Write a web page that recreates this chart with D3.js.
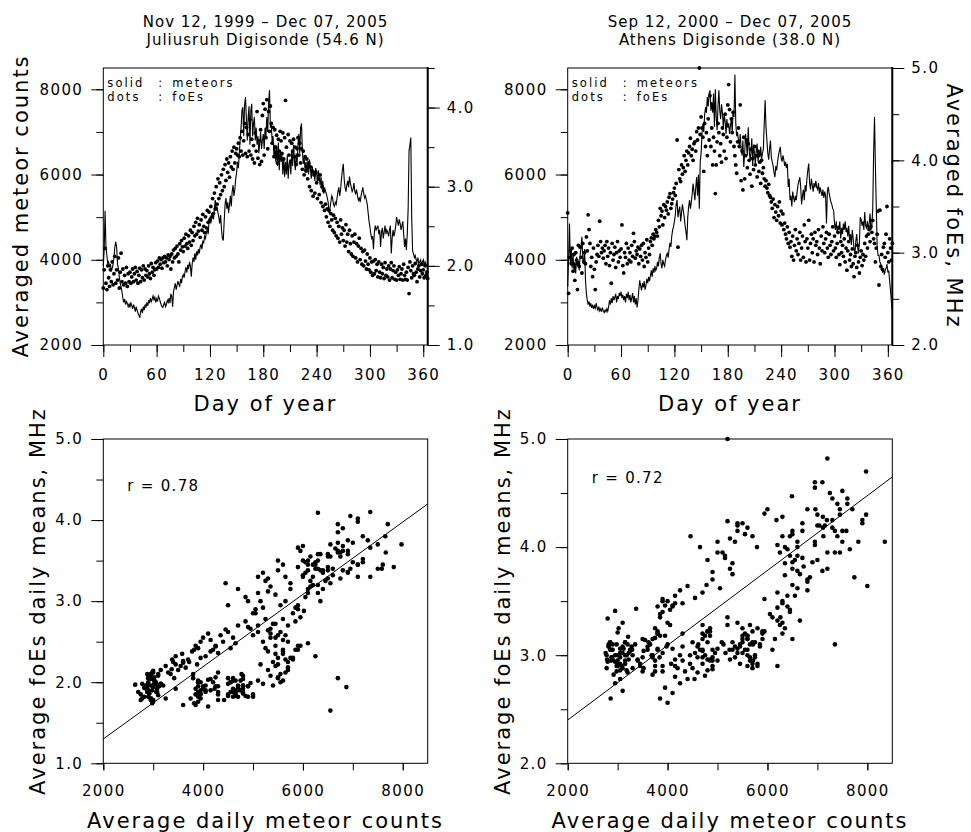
<!DOCTYPE html>
<html>
<head>
<meta charset="utf-8">
<script src="https://cdn.jsdelivr.net/npm/d3@7"></script>
<style>
  html, body { margin: 0; padding: 0; background: #fff; }
  svg { display: block; font-family: "DejaVu Sans", sans-serif; }
</style>
</head>
<body>
<svg id="chart" width="971" height="832"></svg>
<script>
/* Meteor counts vs sporadic-E foEs, Juliusruh and Athens digisondes */

// ---- axis ticks ----
const DAY_TICKS = [0, 30, 60, 90, 120, 150, 180, 210, 240, 270, 300, 330, 360];
const DAY_LABELS = [0, 60, 120, 180, 240, 300, 360];
const COUNT_TICKS = [2000, 3000, 4000, 5000, 6000, 7000, 8000];
const COUNT_LABELS = [2000, 4000, 6000, 8000];
const JUL_F_TICKS = [1.0, 1.5, 2.0, 2.5, 3.0, 3.5, 4.0, 4.5];
const JUL_F_LABELS = [1.0, 2.0, 3.0, 4.0];
const ATH_F_TICKS = [2.0, 2.5, 3.0, 3.5, 4.0, 4.5, 5.0];
const ATH_F_LABELS = [2.0, 3.0, 4.0, 5.0];
const SCAT_J_TICKS = [1.0, 1.5, 2.0, 2.5, 3.0, 3.5, 4.0, 4.5, 5.0];
const SCAT_J_LABELS = [1.0, 2.0, 3.0, 4.0, 5.0];

// ---- Juliusruh, day-of-year averages (day 0..365) ----
const JUL_METEORS = [
  3850, 4250, 5150, 4300, 4100, 3900, 3950, 3820, 3900, 3750,
  3800, 3900, 4050, 4300, 4420, 4300, 3900, 3800, 3600, 3450,
  3370, 3250, 3100, 3000, 3080, 2950, 3020, 2980, 2900, 2960,
  2880, 3000, 2920, 2850, 2950, 2880, 2780, 2900, 2820, 2750,
  2700, 2640, 2780, 2850, 2750, 2900, 2820, 2950, 2880, 3000,
  2920, 3050, 2980, 3100, 3020, 3080, 3150, 3060, 3120, 3000,
  3080, 3020, 3150, 3100, 3020, 2950, 2900, 2880, 2950, 3000,
  2900, 2950, 3050, 3000, 3100, 2980, 3200, 3150, 2900, 3250,
  3350, 3450, 3300, 3400, 3500, 3420, 3380, 3550, 3450, 3600,
  3650, 3580, 3720, 3820, 3700, 3880, 3780, 3950, 3850, 3600,
  3900, 4050, 3950, 4150, 4000, 4200, 4100, 4250, 4150, 4300,
  4350, 4250, 4450, 4400, 4550, 4500, 4650, 4700, 4600, 4900,
  5000, 4850, 5100, 5050, 4950, 5200, 5400, 5150, 5250, 5100,
  5000, 4850, 5050, 4700, 4500, 4450, 4900, 5300, 5450, 5200,
  5350, 5100, 5300, 5500, 5250, 5600, 5750, 5500, 5650, 5900,
  6050, 6300, 6150, 6500, 6800, 7100, 7500, 7580, 6900, 7650,
  7820, 7300, 6800, 7350, 7600, 6700, 7500, 7660, 6900, 7200,
  7350, 6800, 7100, 6700, 6900, 6500, 6750, 7000, 6600, 6800,
  6950, 6600, 7100, 6900, 7350, 7000, 7700, 7975, 7100, 7200,
  6750, 6900, 6400, 6700, 6300, 6650, 6200, 6750, 6100, 6550,
  6300, 6500, 6000, 6400, 5950, 6300, 6000, 6450, 5900, 6250,
  6350, 6000, 6550, 6200, 6700, 6350, 6100, 6500, 6250, 6700,
  6950, 6500, 7100, 7200, 6550, 6250, 6400, 6100, 6300, 6050,
  6300, 6000, 6350, 6150, 5900, 6200, 6020, 6100, 5850, 6150,
  6050, 5800, 6100, 5900, 5750, 5950, 5650, 5850, 5550, 5700,
  5600, 5550, 5450, 5350, 5100, 5200, 5350, 5500, 5450, 5300,
  5250, 5350, 5300, 5450, 5600, 5700, 5500, 5650, 5900, 6100,
  6250, 5900, 5700, 5600, 5750, 5850, 5700, 5950, 5800, 5700,
  5600, 5650, 5800, 5600, 5550, 5650, 5500, 5400, 5450, 5350,
  5500, 5600, 5700, 5550, 5450, 5500, 5400, 5300, 5100, 4900,
  4770, 4600, 4500, 4550, 4250, 4650, 4800, 4700, 4750, 4800,
  4600, 4700, 4300, 4650, 4750, 4500, 4650, 4800, 4600, 4700,
  4650, 4550, 4700, 4800, 4150, 4500, 4700, 4550, 4650, 4800,
  5000, 4900, 4800, 4950, 4850, 4700, 4800, 4900, 4600, 4300,
  4500, 4230, 4600, 5200, 6550, 6700, 6870, 5000, 4200, 4150,
  4050, 4100, 4000, 3950, 4050, 3900, 3950, 4000, 3900, 3950,
  4000, 3850, 3950, 3900, 3850, 3900
];
const JUL_FOES = [
  1.72, 1.95, 2.22, 1.78, 1.70, 2.00, 1.85, 1.74, 1.95, 1.80,
  2.05, 1.76, 1.90, 2.12, 1.78, 1.95, 1.82, 2.10, 1.72, 1.92,
  2.16, 1.80, 1.96, 1.76, 1.88, 1.78, 1.98, 1.74, 1.90, 1.80,
  1.92, 1.78, 1.86, 1.96, 1.80, 1.90, 1.98, 1.82, 1.93, 1.78,
  1.88, 1.97, 1.80, 1.95, 1.85, 2.00, 1.82, 1.96, 1.88, 1.94,
  1.86, 2.00, 1.90, 1.84, 2.03, 1.92, 1.98, 1.88, 1.95, 2.04,
  1.96, 2.06, 1.98, 2.10, 2.02, 2.08, 1.97, 2.10, 2.04, 2.12,
  2.05, 2.10, 2.00, 2.14, 2.08, 2.12, 1.96, 2.15, 2.05, 2.20,
  2.10, 2.22, 2.12, 2.25, 2.15, 2.05, 2.28, 2.20, 2.32, 2.24,
  2.18, 2.35, 2.25, 2.40, 2.28, 2.22, 2.38, 2.30, 2.45, 2.26,
  2.42, 2.32, 2.50, 2.38, 2.55, 2.40, 2.60, 2.44, 2.52, 2.36,
  2.58, 2.45, 2.65, 2.50, 2.42, 2.62, 2.48, 2.70, 2.55, 2.68,
  2.58, 2.75, 2.62, 2.85, 2.66, 2.92, 2.72, 3.00, 2.78, 3.10,
  2.85, 3.05, 2.90, 3.15, 2.95, 3.22, 3.00, 3.28, 3.08, 3.35,
  3.18, 3.30, 3.12, 3.38, 3.25, 3.45, 3.22, 3.50, 3.30, 3.42,
  3.48, 3.40, 3.55, 3.38, 3.62, 3.45, 3.70, 3.40, 3.58, 3.80,
  3.42, 3.75, 3.38, 3.66, 3.45, 3.85, 3.40, 3.60, 3.35, 3.52,
  3.30, 3.68, 3.45, 3.95, 3.36, 3.58, 3.28, 3.72, 3.32, 3.90,
  4.05, 3.40, 3.98, 3.62, 4.10, 3.48, 3.95, 3.70, 4.02, 3.80,
  3.55, 3.75, 3.38, 3.72, 3.50, 3.65, 3.30, 3.60, 3.45, 3.70,
  3.58, 3.42, 3.68, 3.35, 3.62, 4.09, 3.50, 3.25, 3.66, 3.40,
  3.58, 3.32, 3.55, 3.45, 3.60, 3.38, 3.50, 3.28, 3.48, 3.62,
  3.40, 3.55, 3.30, 3.48, 3.22, 3.45, 3.15, 3.38, 3.20, 3.35,
  3.10, 3.30, 3.00, 3.25, 2.95, 3.20, 2.88, 3.15, 2.92, 3.18,
  3.05, 2.85, 3.10, 2.90, 3.15, 2.80, 3.00, 2.75, 2.95, 2.70,
  2.78, 2.62, 2.72, 2.55, 2.70, 2.50, 2.66, 2.58, 2.45, 2.64,
  2.42, 2.60, 2.38, 2.55, 2.35, 2.50, 2.30, 2.58, 2.40, 2.48,
  2.32, 2.45, 2.25, 2.52, 2.30, 2.40, 2.18, 2.45, 2.28, 2.15,
  2.38, 2.12, 2.30, 2.40, 2.10, 2.28, 2.05, 2.25, 2.35, 2.08,
  2.22, 2.02, 2.18, 2.00, 2.20, 2.06, 1.96, 2.15, 2.02, 1.95,
  2.10, 1.92, 2.05, 1.88, 2.06, 1.90, 2.08, 1.94, 2.02, 1.86,
  2.05, 1.92, 1.85, 2.02, 1.90, 1.98, 1.84, 2.04, 1.88, 1.96,
  1.86, 2.00, 1.82, 1.96, 2.04, 1.85, 1.94, 2.00, 1.83, 1.92,
  1.82, 1.95, 1.88, 1.99, 1.83, 1.90, 1.96, 1.82, 2.02, 1.88,
  1.83, 1.92, 1.82, 1.98, 1.65, 2.05, 1.94, 1.85, 2.00, 1.90,
  1.88, 2.03, 1.92, 1.80, 1.96, 2.00, 1.86, 1.94, 2.02, 1.90,
  1.95, 1.85, 2.00, 1.88, 1.92, 1.84
];

// ---- Athens, day-of-year averages (day 0..365) ----
const ATH_METEORS = [
  3370, 4000, 4850, 3900, 4200, 3800, 4150, 3700, 3950, 3680,
  4070, 3850, 3980, 3750, 4100, 4300, 4540, 4000, 3900, 4250,
  3520, 3210, 3050, 2950, 3020, 2900, 2980, 2870, 2950, 2850,
  2920, 2860, 2980, 2880, 2820, 2900, 2800, 2850, 2780, 2880,
  2800, 2760, 2820, 2780, 2850, 2790, 2900, 3050, 2950, 3100,
  2980, 3150, 3050, 3120, 3200, 3000, 3150, 3080, 3220, 3150,
  3250, 3100, 3180, 3050, 3150, 3000, 3200, 3100, 3250, 3050,
  3180, 3000, 3100, 3220, 3000, 3150, 2950, 3100, 2880, 3050,
  3300, 3520, 3400, 3280, 3450, 3350, 3500, 3300, 3400, 3550,
  3450, 3600, 3500, 3620, 3750, 3600, 3800, 3700, 3850, 3750,
  3800, 3950, 3850, 4050, 4150, 3900, 3800, 4000, 3900, 3850,
  4000, 4100, 4150, 4050, 4250, 4400, 4300, 4550, 4700, 4780,
  4900, 5050, 5300, 5400, 5000, 5150, 5250, 4900, 5100, 5300,
  5150, 5000, 4800, 4650, 4460, 5000, 5250, 5400, 5200, 5350,
  5550, 5790, 5600, 5400, 5700, 5940, 5500, 6000, 5200, 6300,
  6490, 6960, 7190, 7000, 7400, 7580, 7450, 7820, 7600, 7900,
  7975, 7500, 7700, 7450, 7900, 7120, 8000, 7350, 7040, 7600,
  7975, 7500, 7300, 7650, 7450, 7110, 7400, 7250, 6950, 7300,
  7100, 7200, 6950, 7150, 7300, 7000, 7500, 7350, 8350, 7200,
  6900, 7000, 6800, 6700, 6950, 6600, 6450, 6800, 6180, 6500,
  6950, 6700, 6450, 7110, 6600, 6350, 6500, 6850, 6200, 6700,
  6500, 6250, 6600, 6725, 6300, 6550, 6400, 6650, 6350, 6500,
  6600, 7200, 7740, 7100, 6800, 6500, 6350, 6600, 6800, 6400,
  6300, 6200, 6050, 5940, 6200, 6100, 6300, 6450, 6550, 6650,
  6400, 6300, 6450, 6350, 6200, 6300, 6150, 6250, 5710, 5900,
  5400, 5500, 5250, 5600, 5450, 5350, 5500, 5400, 5600, 5750,
  5850, 5940, 5700, 5300, 5500, 5650, 5400, 5750, 5600, 5900,
  6100, 6260, 5800, 5650, 5900, 5750, 5600, 5800, 5700, 5850,
  5700, 5650, 5800, 5550, 5700, 5600, 5500, 5650, 5450, 5600,
  5500, 4850, 5600, 5710, 5550, 5450, 5350, 5300, 5200, 5160,
  4850, 4700, 4900, 4615, 4800, 4700, 4900, 4500, 4750, 4600,
  4850, 4700, 4900, 4650, 4750, 4550, 4800, 4450, 4600, 4350,
  4700, 4500, 4250, 4150, 4450, 4600, 4300, 4150, 4400, 5000,
  4950, 4800, 4900, 4700, 5120, 4800, 4750, 4900, 4700, 4850,
  5085, 4700, 4800, 5200, 6500, 7350, 6200, 5240, 4300, 4100,
  4100, 3950, 3900, 3840, 3700, 3800, 3650, 3750, 3800, 3900,
  3700, 3750, 3500, 3290, 3000, 2820
];
const ATH_FOES = [
  3.43, 2.56, 2.95, 3.02, 2.88, 3.05, 2.80, 2.98, 2.70, 3.00,
  2.92, 2.60, 3.08, 2.85, 3.06, 2.95, 2.78, 3.10, 2.90, 3.00,
  2.88, 3.17, 3.02, 3.41, 3.25, 3.10, 2.85, 2.95, 2.74, 3.05,
  2.82, 2.60, 2.90, 2.98, 3.08, 2.96, 3.34, 3.12, 3.00, 3.05,
  2.94, 3.02, 3.08, 2.88, 3.12, 2.96, 3.05, 2.86, 3.00, 2.67,
  3.10, 2.92, 2.98, 3.06, 2.84, 3.00, 3.12, 2.90, 3.02, 2.95,
  3.04, 3.30, 2.86, 2.78, 3.00, 2.95, 3.10, 2.88, 3.05, 2.92,
  3.00, 2.90, 3.08, 2.96, 3.21, 3.12, 2.94, 3.02, 2.98, 3.06,
  2.88, 3.04, 2.96, 3.08, 2.92, 3.10, 2.85, 3.00, 2.95, 3.14,
  2.90, 3.05, 2.98, 3.12, 3.16, 3.08, 3.20, 3.15, 3.18, 3.25,
  3.22, 3.18, 3.35, 3.28, 3.48, 3.40, 3.45, 3.30, 3.52, 3.38,
  3.50, 3.46, 3.55, 3.42, 3.60, 3.64, 3.48, 3.53, 3.58, 3.65,
  3.70, 3.62, 3.75, 4.22, 3.06, 3.90, 3.80, 3.77, 3.95, 3.85,
  3.92, 4.05, 3.88, 4.00, 4.10, 3.95, 4.08, 4.15, 4.24, 4.05,
  4.12, 4.00, 4.18, 4.20, 4.10, 4.31, 4.22, 4.35, 5.00, 4.28,
  4.47, 4.35, 4.25, 3.88, 4.40, 4.15, 4.30, 4.05, 4.45, 4.22,
  4.70, 4.15, 4.35, 3.95, 4.25, 4.10, 3.64, 3.95, 4.20, 4.40,
  4.30, 4.05, 4.18, 3.98, 4.35, 4.28, 4.10, 4.50, 4.02, 4.25,
  4.60, 4.82, 4.55, 4.20, 4.45, 4.30, 4.52, 4.15, 4.05, 3.95,
  3.86, 4.20, 4.35, 4.15, 4.60, 3.78, 4.10, 3.68, 4.25, 3.80,
  4.05, 4.22, 3.92, 4.18, 4.00, 3.85, 4.12, 3.72, 4.02, 3.90,
  4.15, 3.95, 4.05, 3.82, 4.10, 3.88, 3.98, 3.75, 4.00, 3.86,
  3.92, 3.80, 3.72, 3.78, 3.70, 3.65, 3.74, 3.62, 3.60, 3.55,
  3.48, 3.58, 3.38, 3.52, 3.44, 3.35, 3.50, 3.40, 3.55, 3.32,
  3.45, 3.30, 3.42, 3.25, 3.32, 3.20, 3.15, 3.28, 3.10, 3.22,
  3.06, 3.12, 2.96, 3.18, 2.92, 3.08, 3.25, 3.02, 3.15, 2.98,
  3.10, 3.22, 2.92, 3.05, 3.18, 2.95, 3.30, 3.12, 2.90, 3.15,
  3.05, 3.35, 2.92, 3.10, 3.20, 3.00, 3.15, 2.90, 3.22, 3.08,
  3.12, 2.98, 3.25, 3.05, 2.88, 3.18, 3.02, 3.28, 3.10, 3.00,
  3.15, 3.22, 3.05, 2.95, 3.20, 3.08, 2.98, 3.12, 3.28, 3.02,
  3.18, 3.05, 2.95, 3.10, 3.22, 2.98, 2.87, 3.12, 3.00, 3.08,
  2.96, 3.15, 2.90, 3.05, 2.81, 3.02, 3.12, 2.92, 2.98, 2.85,
  3.04, 2.88, 2.74, 2.96, 3.00, 2.84, 3.08, 2.90, 2.78, 2.95,
  3.02, 2.86, 2.98, 2.92, 3.10, 2.96, 3.18, 3.05, 3.20, 3.25,
  3.12, 3.28, 3.22, 3.35, 3.15, 3.10, 2.90, 3.05, 3.20, 3.45,
  2.65, 3.46, 2.85, 2.98, 2.82, 3.06, 3.10, 2.95, 3.20, 3.50,
  3.00, 2.90, 3.15, 3.05, 2.92, 3.10
];

// linear fits of foEs against meteor counts: [intercept, slope]
const JUL_FIT = [0.408, 0.000446];
const ATH_FIT = [1.708, 0.000346];
const JUL_R = "r = 0.78";
const ATH_R = "r = 0.72";

const FONT = '"DejaVu Sans", sans-serif';
const svg = d3.select("#chart");

// panel geometry
const COLS = [[103.3, 427.7], [567.7, 892.3]];
const TOP_ROW = [68, 345];
const BOT_ROW = [439, 763.3];

function addAxis(g, kind, scale, at, ticks, labels, fmt, minorLen, majorLen, pad) {
  const make = { left: d3.axisLeft, right: d3.axisRight, bottom: d3.axisBottom }[kind];
  const tr = kind === "bottom" ? `translate(0,${at})` : `translate(${at},0)`;
  g.append("g").attr("transform", tr)
    .call(make(scale).tickValues(ticks).tickSize(minorLen).tickFormat(""));
  const lab = g.append("g").attr("transform", tr)
    .call(make(scale).tickValues(labels).tickSize(majorLen).tickPadding(pad).tickFormat(fmt));
  lab.selectAll("text")
    .attr("font-size", 15)
    .attr("font-family", FONT)
    .style("letter-spacing", "1.4px")
    .attr("fill", "#000");
  g.selectAll(".domain").remove();
}

function frame(g, xr, yr) {
  g.append("rect")
    .attr("x", xr[0]).attr("y", yr[0])
    .attr("width", xr[1] - xr[0]).attr("height", yr[1] - yr[0])
    .attr("fill", "none").attr("stroke", "#000").attr("stroke-width", 1);
}

function title(text, x, y, size, rot) {
  const t = svg.append("text")
    .attr("text-anchor", "middle")
    .attr("font-family", FONT)
    .attr("font-size", size)
    .style("letter-spacing", size > 18 ? "2px" : "1px")
    .text(text);
  if (rot) t.attr("transform", `translate(${x},${y}) rotate(${rot})`);
  else t.attr("x", x).attr("y", y);
  return t;
}

function drawTimePanel(col, meteors, foes, fDomain, fTicks, fLabels, head1, head2) {
  const xr = COLS[col];
  const g = svg.append("g");
  const x = d3.scaleLinear().domain([0, 365]).range(xr);
  const yM = d3.scaleLinear().domain([2000, 8500]).range([TOP_ROW[1], TOP_ROW[0]]);
  const yF = d3.scaleLinear().domain(fDomain).range([TOP_ROW[1], TOP_ROW[0]]);

  addAxis(g, "left", yM, xr[0], COUNT_TICKS, COUNT_LABELS, d3.format("d"), 7, 12, 8);
  addAxis(g, "right", yF, xr[1], fTicks, fLabels, d3.format(".1f"), 7, 12, 7);
  addAxis(g, "bottom", x, TOP_ROW[1], DAY_TICKS, DAY_LABELS, d3.format("d"), 7, 12, 12);
  frame(g, xr, TOP_ROW);
  g.append("line")
    .attr("x1", xr[1]).attr("x2", xr[1])
    .attr("y1", TOP_ROW[0] - 1).attr("y2", TOP_ROW[1])
    .attr("stroke", "#000").attr("stroke-width", 2);

  const line = d3.line().x((d, i) => x(i)).y(d => yM(d));
  g.append("path").datum(meteors)
    .attr("d", line)
    .attr("fill", "none").attr("stroke", "#000").attr("stroke-width", 1.1);

  g.selectAll("circle.f").data(foes).join("circle")
    .attr("class", "f")
    .attr("cx", (d, i) => x(i))
    .attr("cy", d => yF(d))
    .attr("r", 1.9)
    .attr("fill", "#000");

  // key (tight two-line legend inside the frame)
  const key = g.append("g").attr("font-family", FONT).attr("font-size", 11.5)
    .style("letter-spacing", "2.1px");
  [["solid", "meteors", 87], ["dots", "foEs", 100.5]].forEach(([a, b, yy]) => {
    key.append("text").attr("x", xr[0] + 4).attr("y", yy).text(a);
    key.append("text").attr("x", xr[0] + 55).attr("y", yy).text(":");
    key.append("text").attr("x", xr[0] + 69).attr("y", yy).text(b);
  });

  const cx = (xr[0] + xr[1]) / 2;
  title(head1, cx, 27, 15);
  title(head2, cx, 45, 15);
  title("Day of year", cx, 411, 21);
}

function drawScatter(col, meteors, foes, yDomain, yTicks, yLabels, fit, rText, rY) {
  const xr = COLS[col];
  const g = svg.append("g");
  const x = d3.scaleLinear().domain([2000, 8500]).range(xr);
  const y = d3.scaleLinear().domain(yDomain).range([BOT_ROW[1], BOT_ROW[0]]);

  addAxis(g, "left", y, xr[0], yTicks, yLabels, d3.format(".1f"), 7, 12, 8);
  addAxis(g, "bottom", x, BOT_ROW[1], COUNT_TICKS, COUNT_LABELS, d3.format("d"), 7, 7, 15);
  frame(g, xr, BOT_ROW);

  g.selectAll("circle.p").data(d3.zip(meteors, foes)).join("circle")
    .attr("class", "p")
    .attr("cx", d => x(d[0]))
    .attr("cy", d => y(d[1]))
    .attr("r", 2.3)
    .attr("fill", "#000");

  const xd = x.domain();
  g.append("line")
    .attr("x1", x(xd[0])).attr("y1", y(fit[0] + fit[1] * xd[0]))
    .attr("x2", x(xd[1])).attr("y2", y(fit[0] + fit[1] * xd[1]))
    .attr("stroke", "#000").attr("stroke-width", 1);

  g.append("text")
    .attr("x", xr[0] + 24).attr("y", rY)
    .attr("font-family", FONT).attr("font-size", 15)
    .style("letter-spacing", "1.3px")
    .text(rText);

  title("Average daily meteor counts", (xr[0] + xr[1]) / 2, 828, 21);
  title("Average foEs daily means, MHz", xr[0] - 58, 601, 21, -90);
}

drawTimePanel(0, JUL_METEORS, JUL_FOES, [1.0, 4.5], JUL_F_TICKS, JUL_F_LABELS,
  "Nov 12, 1999 \u2013 Dec 07, 2005", "Juliusruh Digisonde (54.6 N)");
drawTimePanel(1, ATH_METEORS, ATH_FOES, [2.0, 5.0], ATH_F_TICKS, ATH_F_LABELS,
  "Sep 12, 2000 \u2013 Dec 07, 2005", "Athens Digisonde (38.0 N)");
title("Averaged meteor counts", 28, 206, 21, -90);
title("Averaged foEs, MHz", 947, 206, 21, 90);

drawScatter(0, JUL_METEORS, JUL_FOES, [1.0, 5.0], SCAT_J_TICKS, SCAT_J_LABELS, JUL_FIT, JUL_R, 491);
drawScatter(1, ATH_METEORS, ATH_FOES, [2.0, 5.0], ATH_F_TICKS, ATH_F_LABELS, ATH_FIT, ATH_R, 483);
</script>
</body>
</html>
